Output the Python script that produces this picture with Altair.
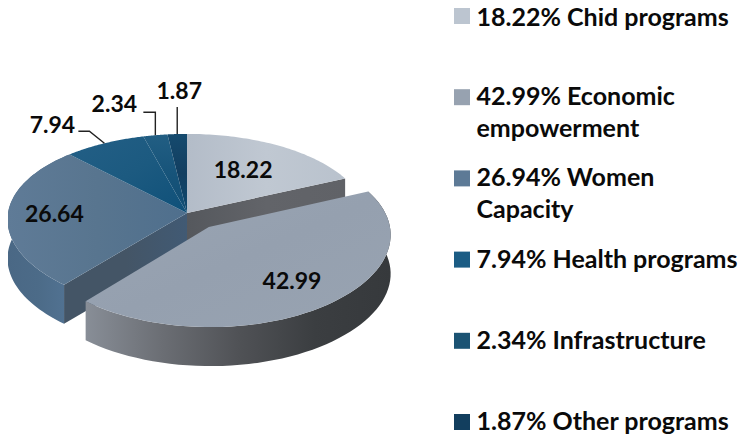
import math
import altair as alt

pie_values = [18.22, 42.99, 26.64, 7.94, 2.34, 1.87]
pie_labels = ["18.22", "42.99", "26.64", "7.94", "2.34", "1.87"]
legend_labels = [
    "18.22% Chid programs",
    "42.99% Economic\nempowerment",
    "26.94% Women\nCapacity",
    "7.94% Health programs",
    "2.34% Infrastructure",
    "1.87% Other programs",
]
swatches = ["#bcc5d0", "#97a2b0", "#5d7a96", "#1b5c84", "#1b5373", "#123e5e"]

FONT = "Lato"
CX, CY, RX, RY, KX, KY, DEPTH = 179, 205, 179, 87, 0.075, 0.10, 39
EXPLODE = 0.2
W, H = 733, 428


def pt(theta, r=1.0, du=0.0, dv=0.0):
    u = r * math.sin(theta) + du
    v = r * math.cos(theta) + dv
    return [CX + RX * u / (1 + KX * v), CY - RY * v / (1 + KY * v)]


def feat(coords, kind="Polygon"):
    geom = {"type": kind, "coordinates": [coords] if kind == "Polygon" else coords}
    return {"type": "Feature", "properties": {}, "geometry": geom}


def shape(coords, fill):
    data = alt.InlineData(
        values={"type": "FeatureCollection", "features": [feat(coords)]},
        format=alt.DataFormat(property="features", type="json"),
    )
    return alt.Chart(data).mark_geoshape(fill=fill, strokeWidth=0)


def grad(colors, x1=0, y1=0, x2=1, y2=0):
    n = len(colors) - 1
    return alt.LinearGradient(
        gradient="linear", x1=x1, y1=y1, x2=x2, y2=y2,
        stops=[alt.GradientStop(color=c, offset=i / n) for i, c in enumerate(colors)],
    )


# slice angles, clockwise from 12 o'clock, values are percentages
total = sum(pie_values)
angles = []
a = 0.0
for v in pie_values:
    angles.append((a, a + v / total * 2 * math.pi))
    a = angles[-1][1]


def rim(t0, t1, du=0.0, dv=0.0, n=60):
    return [pt(t0 + (t1 - t0) * i / n, 1.0, du, dv) for i in range(n + 1)]


def down(p):
    return [p[0], p[1] + DEPTH]


mid_big = sum(angles[1]) / 2
edu, edv = EXPLODE * math.sin(mid_big), EXPLODE * math.cos(mid_big)
apex = pt(0, 0)
big_apex = pt(0, 0, edu, edv)

layers = []

# slice 1 cut wall and top
end1 = pt(angles[0][1])
layers.append(shape([apex, end1, down(end1), down(apex), apex], grad(["#55585d", "#626469", "#606267"])))
layers.append(shape([apex] + rim(*angles[0]) + [apex], grad(["#b3bcc8", "#c0c8d2", "#b9c2cd"])))

# blue slice walls
corner = pt(angles[2][0])
r = rim(angles[2][0], angles[2][1])
layers.append(shape(r + [down(p) for p in reversed(r)] + [r[0]], grad(["#4a6885", "#4c6b88", "#527393"], 0, 0, 1, 0)))
layers.append(shape([apex, corner, down(corner), down(apex), apex], grad(["#445566", "#445566", "#415a74"])))

# back slices' tops
tops = {
    2: grad(["#5f7b97", "#58758f", "#4f6f8d"], 0, 0, 1, 0),
    3: grad(["#235f86", "#1c5a80", "#0f5079"], 0, 0, 1, 1),
    4: grad(["#225e83", "#17547a", "#114c72"], 0, 0, 0, 1),
    5: grad(["#154a6e", "#123e60", "#0f4a70"], 0, 0, 0, 1),
}
for i, f in tops.items():
    layers.append(shape([apex] + rim(*angles[i]) + [apex], f))

# exploded slice wall and top
r = rim(angles[1][0], angles[1][1], edu, edv)
layers.append(shape(r + [down(p) for p in reversed(r)] + [r[0]],
                    grad(["#36393c", "#3b3e41", "#505256", "#6b6e74", "#888e97"], 1, 0, 0, 0)))
layers.append(shape([big_apex] + r + [big_apex], grad(["#9aa5b3", "#95a0af", "#98a3b1"], 0, 0, 1, 1)))

# inside labels sit on the slice's own mid angle, at a share of the radius
inner_reach = {0: 0.60, 1: 0.72, 2: 0.74}
label_rows = []
for i, reach in inner_reach.items():
    m = sum(angles[i]) / 2
    du, dv = (edu, edv) if i == 1 else (0, 0)
    x, y = pt(m, reach, du, dv)
    label_rows.append({"lon": x, "lat": y, "t": pie_labels[i]})

# outside labels hang on a leader from the rim
leader_bends = {3: [(-15, -12), (-26, -12)], 4: [(0, -23), (-12, -23)], 5: [(0, -27)]}
text_offsets = {3: (-52, -17), 4: (-41, -30), 5: (2, -42)}
for i, bends in leader_bends.items():
    m = sum(angles[i]) / 2
    s = pt(m)
    line = [s] + [[s[0] + a, s[1] + b] for a, b in bends]
    data = alt.InlineData(
        values={"type": "FeatureCollection", "features": [feat(line, "LineString")]},
        format=alt.DataFormat(property="features", type="json"),
    )
    layers.append(alt.Chart(data).mark_geoshape(filled=False, stroke="#222222", strokeWidth=1.4))
    ox, oy = text_offsets[i]
    label_rows.append({"lon": s[0] + ox, "lat": s[1] + oy, "t": pie_labels[i]})

layers.append(
    alt.Chart(alt.Data(values=label_rows))
    .mark_text(font=FONT, fontWeight="bold", fontSize=23, color="#0a0a0a")
    .encode(longitude="lon:Q", latitude="lat:Q", text="t:N")
)

# legend column
LEG_Y0, LEG_STEP, LEG_SW_X, LEG_TX_X = 8, 81.2, 454, 468.5
leg_rows = [
    {"lon": LEG_SW_X, "lat": LEG_Y0 + LEG_STEP * i, "tx": LEG_TX_X, "t": t, "c": c,
     "ty": LEG_Y0 + LEG_STEP * i + (2 if i == 0 else 0)}
    for i, (t, c) in enumerate(zip(legend_labels, swatches))
]
leg = alt.Data(values=leg_rows)
layers.append(
    alt.Chart(leg).mark_square(size=256, opacity=1, strokeWidth=0).encode(
        longitude="lon:Q", latitude="lat:Q",
        fill=alt.Fill("c:N", scale=None),
    )
)
layers.append(
    alt.Chart(leg).mark_text(
        font=FONT, fontWeight="bold", fontSize=25, color="#0a0a0a",
        align="left", baseline="middle", lineBreak="\n", lineHeight=32,
    ).encode(longitude="tx:Q", latitude="ty:Q", text="t:N")
)

chart = (
    alt.layer(*layers)
    .project(type="identity", scale=1, translate=[0, 0])
    .properties(width=W, height=H, padding=0)
    .configure_view(stroke=None)
)
chart.save("out.html", embed_options={"renderer": "svg", "actions": False})
